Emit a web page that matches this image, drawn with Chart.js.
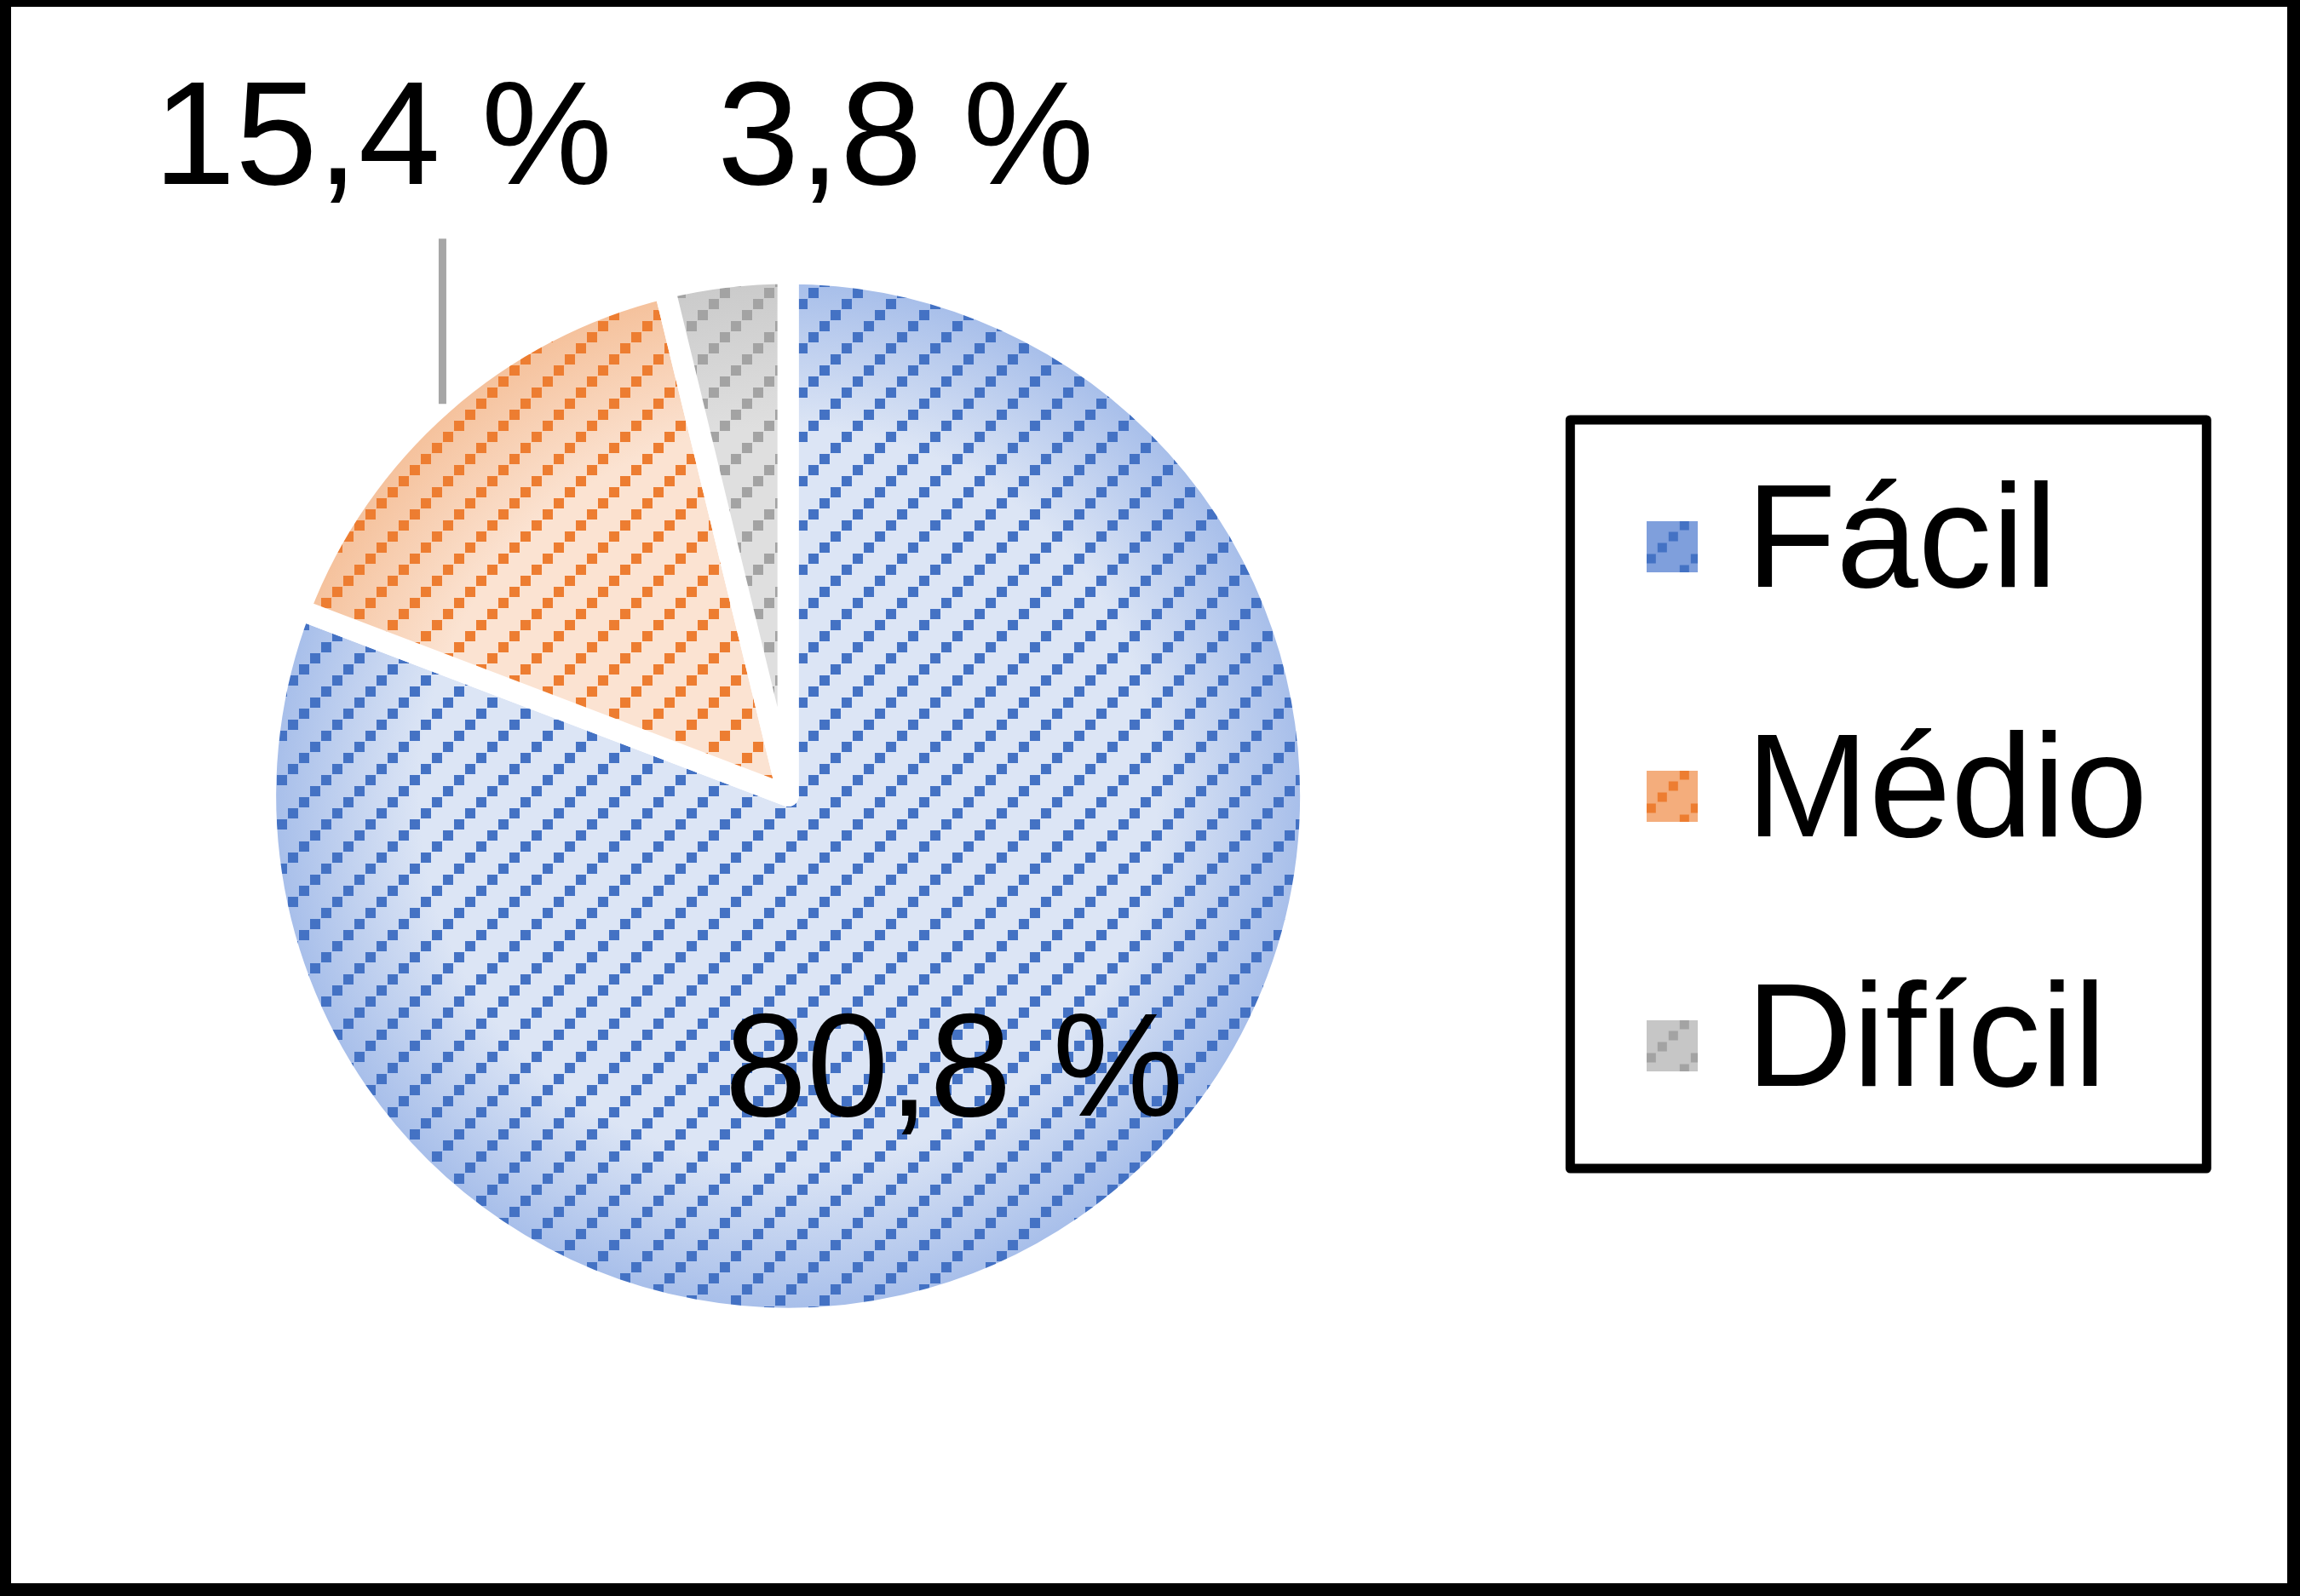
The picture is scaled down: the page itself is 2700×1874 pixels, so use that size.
<!DOCTYPE html>
<html>
<head>
<meta charset="utf-8">
<title>Grau de dificuldade</title>
<script src="https://cdn.jsdelivr.net/npm/chart.js@4.4.1/dist/chart.umd.min.js"></script>
<style>
  html, body { margin: 0; padding: 0; background: #fff; }
  #wrap { position: relative; width: 2700px; height: 1874px; }
</style>
</head>
<body>
<div id="wrap"><canvas id="pieChart"></canvas></div>
<script>
'use strict';

// ── Data ──────────────────────────────────────────────────
const categories = ['Fácil', 'Médio', 'Difícil'];
const percentages = [80.8, 15.4, 3.8];

// ── Look ──────────────────────────────────────────────────
const FONT = '"Liberation Sans", Arial, sans-serif';
const FONT_SIZE = 173;
const squareColors = ['#4472c4', '#ed7d31', '#a3a3a3'];
const lightColors = ['#dce5f5', '#fbe3d2', '#dfdfdf'];
const edgeColors = ['#a8bfea', '#f5c29d', '#cbcbcb'];
const swatchColors = ['#7f9fdc', '#f4ad7c', '#c6c6c6'];
const pieRadius = 613.5;
const borderGap = 25;

// label anchor: fraction of the radius along the slice mid angle, then a shift to the text baseline
const labelRadius = [0.6, 1, 1];
const labelShift = [[-14, 72], [-70, -258], [211, -109]];
const leaderLine = [false, true, false];

const formatPct = v => v.toFixed(1).replace('.', ',') + ' %';

// small tile: squares stepping along an upward diagonal
function makeTile(color, step, size) {
    const c = document.createElement('canvas');
    c.width = c.height = step * 4;
    const g = c.getContext('2d');
    g.fillStyle = color;
    for (let k = 0; k < 4; k++) g.fillRect(k * step, (3 - k) * step, size, size);
    return c;
}

function makeSwatch(i) {
    const c = document.createElement('canvas');
    c.width = 60; c.height = 60;
    const g = c.getContext('2d');
    g.fillStyle = swatchColors[i];
    g.fillRect(0, 0, 60, 60);
    g.fillStyle = g.createPattern(makeTile(squareColors[i], 13, 11), 'repeat');
    g.fillRect(0, 0, 60, 60);
    return c;
}

let fillCache = null;
function buildFills(chart, area) {
    const cx = (area.left + area.right) / 2;
    const cy = (area.top + area.bottom) / 2;
    const rOuter = pieRadius - borderGap / 2;
    return squareColors.map((sq, i) => {
        const off = document.createElement('canvas');
        off.width = chart.width; off.height = chart.height;
        const g = off.getContext('2d');
        const grad = g.createRadialGradient(cx, cy, 0, cx, cy, rOuter);
        grad.addColorStop(0, lightColors[i]);
        grad.addColorStop(0.72, lightColors[i]);
        grad.addColorStop(1, edgeColors[i]);
        g.fillStyle = grad;
        g.fillRect(0, 0, off.width, off.height);
        g.fillStyle = g.createPattern(makeTile(sq, 13, 12), 'repeat');
        g.fillRect(0, 0, off.width, off.height);
        return chart.ctx.createPattern(off, 'no-repeat');
    });
}

function pieFill(context) {
    const i = context.dataIndex;
    const chart = context.chart;
    const area = chart.chartArea;
    if (i === undefined || !area) return lightColors[i || 0];
    const key = [area.left, area.top, area.right, area.bottom, chart.width, chart.height].join(',');
    if (!fillCache || fillCache.key !== key) fillCache = { key, fills: buildFills(chart, area) };
    return fillCache.fills[i];
}

// ── Plugins ───────────────────────────────────────────────
const valueLabelPlugin = {
    id: 'valueLabels',
    afterDatasetsDraw(chart) {
        const ctx = chart.ctx;
        const arcs = chart.getDatasetMeta(0).data;
        ctx.save();
        ctx.font = FONT_SIZE + 'px ' + FONT;
        ctx.textAlign = 'center';
        ctx.textBaseline = 'alphabetic';
        ctx.fillStyle = '#000';
        arcs.forEach((arc, i) => {
            const { x, y, startAngle, endAngle, outerRadius } =
                arc.getProps(['x', 'y', 'startAngle', 'endAngle', 'outerRadius'], true);
            const mid = (startAngle + endAngle) / 2;
            const ax = x + Math.cos(mid) * outerRadius * labelRadius[i];
            const ay = y + Math.sin(mid) * outerRadius * labelRadius[i];
            const tx = ax + labelShift[i][0];
            const ty = ay + labelShift[i][1];
            if (leaderLine[i]) {
                ctx.strokeStyle = '#a6a6a6';
                ctx.lineWidth = 9;
                ctx.beginPath();
                ctx.moveTo(ax, ay);
                ctx.lineTo(ax, ty + 64);
                ctx.stroke();
            }
            ctx.fillText(formatPct(percentages[i]), tx, ty);
        });
        ctx.restore();
    }
};

const framePlugin = {
    id: 'frames',
    afterDraw(chart) {
        const ctx = chart.ctx;
        const w = chart.width, h = chart.height;
        ctx.save();
        // outer border of the picture
        ctx.fillStyle = '#000';
        ctx.fillRect(0, 0, 13, h);
        ctx.fillRect(0, 0, w, 8);
        ctx.fillRect(w - 15, 0, 15, h);
        ctx.fillRect(0, h - 15, w, 15);
        // box round the legend
        const lg = chart.legend;
        const pad = lg.options.labels.padding;
        const colH = lg.columnSizes[0].height;
        const itemsTop = (lg.top + pad + lg.bottom - colH) / 2;
        ctx.strokeStyle = '#000';
        ctx.lineWidth = 11;
        ctx.lineJoin = 'round';
        ctx.strokeRect(lg.left + 1, itemsTop - 62, 747, colH);
        ctx.restore();
    }
};

// ── Chart ─────────────────────────────────────────────────
document.addEventListener('DOMContentLoaded', () => {
    const canvas = document.getElementById('pieChart');

    new Chart(canvas, {
        type: 'pie',
        data: {
            labels: categories,
            datasets: [{
                data: percentages,
                backgroundColor: pieFill,
                borderColor: '#ffffff',
                borderWidth: borderGap,
                borderJoinStyle: 'round',
                radius: pieRadius,
            }],
        },
        options: {
            responsive: true,
            maintainAspectRatio: false,
            devicePixelRatio: 1,
            animation: false,
            events: [],
            layout: { padding: { left: 8, right: 169, top: 0, bottom: 5 } },
            plugins: {
                tooltip: { enabled: false },
                legend: {
                    position: 'right',
                    align: 'center',
                    labels: {
                        color: '#000',
                        font: { family: FONT, size: FONT_SIZE },
                        padding: 120,
                        usePointStyle: true,
                        pointStyleWidth: 1,
                        generateLabels: () => categories.map((text, i) => ({
                            text,
                            fillStyle: swatchColors[i],
                            strokeStyle: 'rgba(0,0,0,0)',
                            lineWidth: 0,
                            pointStyle: makeSwatch(i),
                            hidden: false,
                            index: i,
                            datasetIndex: 0,
                        })),
                    },
                },
            },
        },
        plugins: [valueLabelPlugin, framePlugin],
    });
});
</script>
</body>
</html>
